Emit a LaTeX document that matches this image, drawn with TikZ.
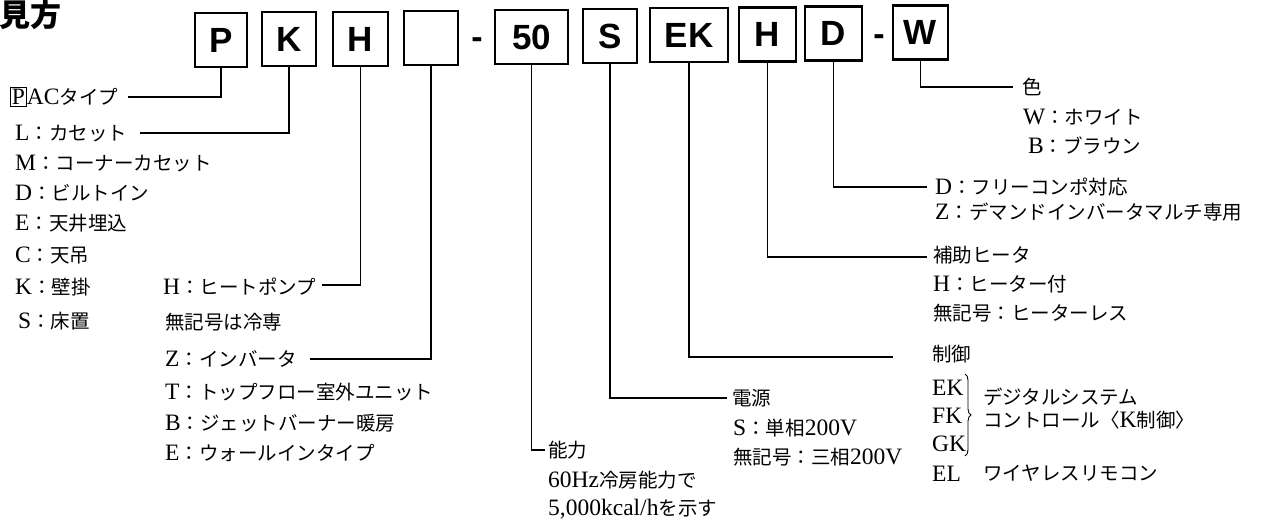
\documentclass[tikz,border=0pt]{standalone}
\usepackage{fontspec}
\setmainfont{Liberation Serif}
\newfontfamily\jpfont{Noto Sans CJK JP}
\newfontfamily\boxfont{Liberation Sans}
\usetikzlibrary{decorations.pathreplacing}
\newcommand\J[1]{{\jpfont\fontsize{19.5}{23}\selectfont #1}}
\tikzset{
  codebox/.style={draw, line width=2.4pt, inner sep=0pt, minimum height=54pt,
    font=\boxfont\bfseries\fontsize{35}{35}\selectfont},
  conn/.style={line width=1.4pt},
  lbl/.style={anchor=base west, inner sep=0pt, font=\fontsize{23.5}{26}\selectfont},
  dashmark/.style={anchor=base, inner sep=0pt, font=\boxfont\bfseries\fontsize{34}{34}\selectfont},
}
\begin{document}
\begin{tikzpicture}[x=1pt,y=-1pt]
\useasboundingbox (0,0) rectangle (1280,523);
\fill[white] (0,0) rectangle (1280,523);

% title
\node[anchor=base west, inner sep=0pt, font=\jpfont\bfseries\fontsize{31}{31}\selectfont] (title) at (-1,26) {見方};

% code boxes
\node[codebox, minimum width=52pt] (bP)  at (221,40)   {P};
\node[codebox, minimum width=54pt] (bK)  at (289,39)   {K};
\node[codebox, minimum width=55pt] (bH)  at (360.5,39) {H};
\node[codebox, minimum width=54pt] (bE)  at (431,38)   {};
\node[dashmark] (d1) at (477,48) {-};
\node[codebox, minimum width=73pt] (b50) at (531.5,37) {50};
\node[codebox, minimum width=54pt] (bS)  at (610,36)   {S};
\node[codebox, minimum width=78pt] (bEK) at (689,35)   {EK};
\node[codebox, minimum width=57pt] (bH2) at (767.5,34.5) {H};
\node[codebox, minimum width=57pt] (bD)  at (833.5,33.5) {D};
\node[dashmark] (d2) at (879,45) {-};
\node[codebox, minimum width=55pt] (bW)  at (920.5,32.5) {W};

% connector end points
\coordinate (eP)  at (128,97);
\coordinate (eK)  at (140,133);
\coordinate (eH)  at (322,285);
\coordinate (eE)  at (310,359);
\coordinate (e50) at (545,450);
\coordinate (eS)  at (727,398);
\coordinate (eEK) at (893,357);
\coordinate (eH2) at (927,257);
\coordinate (eD)  at (927,187);
\coordinate (eW)  at (1013,87);

\draw[conn] (bP.south)  |- (eP);
\draw[conn] (bK.south)  |- (eK);
\draw[conn] (bH.south)  |- (eH);
\draw[conn] (bE.south)  |- (eE);
\draw[conn] (b50.south) |- (e50);
\draw[conn] (bS.south)  |- (eS);
\draw[conn] (bEK.south) |- (eEK);
\draw[conn] (bH2.south) |- (eH2);
\draw[conn] (bD.south)  |- (eD);
\draw[conn] (bW.south)  |- (eW);

% left column
\node[lbl] (tP) at (10,104.5) {\setlength{\fboxsep}{1pt}\setlength{\fboxrule}{0.8pt}\fbox{P}AC\J{タイプ}};
\node[lbl] (tL) at (15,140.5) {L\J{：カセット}};
\node[lbl] (tM) at (15,170.5) {M\J{：コーナーカセット}};
\node[lbl] (tD) at (15,200.5) {D\J{：ビルトイン}};
\node[lbl] (tE) at (15,230.5) {E\J{：天井埋込}};
\node[lbl] (tC) at (15,262.5) {C\J{：天吊}};
\node[lbl] (tKk) at (15,294.5) {K\J{：壁掛}};
\node[lbl] (tSs) at (18,328) {S\J{：床置}};

% H
\node[lbl] (tH1) at (163,294.5) {H\J{：ヒートポンプ}};
\node[lbl] (tH2) at (165,329.5) {\J{無記号は冷専}};

% empty box
\node[lbl] (tZ) at (165,366.5) {Z\J{：インバータ}};
\node[lbl] (tT) at (165,399.5) {T\J{：トップフロー室外ユニット}};
\node[lbl] (tB) at (165,430.5) {B\J{：ジェットバーナー暖房}};
\node[lbl] (tE2) at (165,460.5) {E\J{：ウォールインタイプ}};

% capacity
\node[lbl] (tN1) at (548,457.5) {\J{能力}};
\node[lbl] (tN2) at (548,487.5) {60Hz\J{冷房能力で}};
\node[lbl] (tN3) at (548,515.5) {5,000kcal/h\J{を示す}};

% power
\node[lbl] (tS1) at (732,405.5) {\J{電源}};
\node[lbl] (tS2) at (733,435.5) {S\J{：単相}200V};
\node[lbl] (tS3) at (733,464.5) {\J{無記号：三相}200V};

% control
\node[lbl] (tC1) at (932,361.5) {\J{制御}};
\node[lbl] (tEK) at (932,395) {EK};
\node[lbl] (tFK) at (932,423) {FK};
\node[lbl] (tGK) at (932,451) {GK};
\draw[line width=0.9pt, decorate, decoration={brace, amplitude=6pt}] (965,374) -- (965,456);
\node[lbl] (tC2) at (983,404.5) {\J{デジタルシステム}};
\node[lbl] (tC3) at (983,427.5) {\J{コントロール〈}K\J{制御〉}};
\node[lbl] (tEL) at (932,481) {EL};
\node[lbl] (tC4) at (983,480.5) {\J{ワイヤレスリモコン}};

% heater
\node[lbl] (tA1) at (933,262.5) {\J{補助ヒータ}};
\node[lbl] (tA2) at (933,291.5) {H\J{：ヒーター付}};
\node[lbl] (tA3) at (933,320.5) {\J{無記号：ヒーターレス}};

% D
\node[lbl] (tD1) at (935,194.5) {D\J{：フリーコンポ対応}};
\node[lbl] (tD2) at (935,219.5) {Z\J{：デマンドインバータマルチ専用}};

% colour
\node[lbl] (tW1) at (1022,94.5) {\J{色}};
\node[lbl] (tW2) at (1023,124.5) {W\J{：ホワイト}};
\node[lbl] (tW3) at (1028,153.5) {B\J{：ブラウン}};
\end{tikzpicture}
\end{document}
